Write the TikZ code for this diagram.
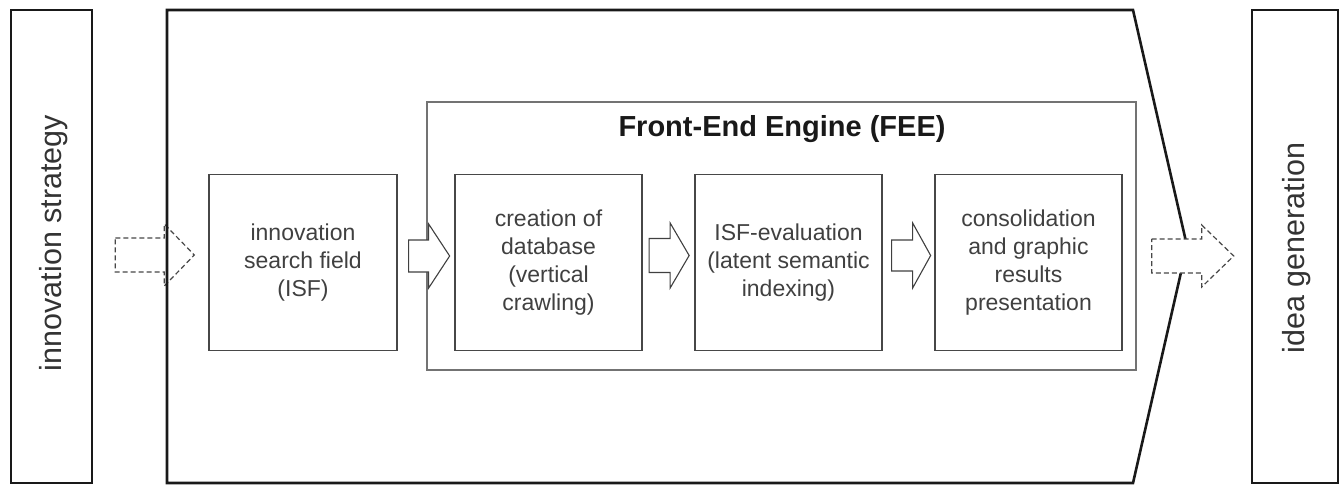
\documentclass[tikz,border=0pt]{standalone}
\usepackage{fontspec}
\setmainfont{Liberation Sans}
\usetikzlibrary{calc}
\begin{document}
\begin{tikzpicture}[x=1pt,y=-1pt,
  outer/.style={draw=black!90, line width=2.6pt, line join=miter},
  sidebox/.style={outer, minimum width=81pt, minimum height=473pt, inner sep=0pt},
  sidetext/.style={rotate=90, text=black!80, font=\fontsize{30.5}{35}\selectfont, inner sep=0pt},
  feebox/.style={draw=black!55, line width=1.8pt, minimum width=709pt, minimum height=268pt, inner sep=0pt},
  title/.style={text=black!90, font=\fontsize{29}{33}\bfseries\selectfont, inner sep=0pt},
  procbox/.style={draw=black!72, line width=1.3pt, minimum width=187pt, minimum height=176pt,
    inner sep=0pt, align=center, text=black!75, font=\fontsize{23}{28}\selectfont},
  blockarr/.style={draw=black!75, line width=1.1pt, fill=white, line join=miter},
  dasharr/.style={draw=black!72, line width=1.2pt, dash pattern=on 5pt off 3pt, fill=white, line join=miter}
]
\useasboundingbox (0,0) rectangle (1340,485);

% side boxes
\node[sidebox] (strat) at (51.5,246.5) {};
\node[sidetext] (stratlabel) at (54,243) {innovation strategy};
\node[sidebox, minimum width=86pt] (idea) at (1295,246.5) {};
\node[sidetext] (idealabel) at (1297,248) {idea generation};

% incoming dashed arrow (under the main outline)
\coordinate (din) at ($(strat.east)+(22,8.5)$);
\draw[dasharr, shift={(din)}] (0,-17) -- (49,-17) -- (49,-31) -- (79,0) -- (49,31) -- (49,17) -- (0,17) -- cycle;

% main chevron outline
\draw[outer] (167,10) coordinate (m1) -- (1133,10) coordinate (m2) -- (1187,246) coordinate (m3)
  -- (1133,483) coordinate (m4) -- (167,483) coordinate (m5) -- cycle;

% outgoing dashed arrow (over the main outline)
\coordinate (dout) at ($(idea.west)+(-99,9.5)$);
\draw[dasharr, shift={(dout)}] (0,-17) -- (50,-17) -- (50,-31) -- (82,0) -- (50,31) -- (50,17) -- (0,17) -- cycle;

% Front-End Engine frame
\node[feebox] (fee) at (781.5,236) {};
\node[title, anchor=base] (feetitle) at (782,136) {Front-End Engine (FEE)};

% process boxes
\node[procbox, minimum width=188pt] (b1) at (303,262.5) {innovation\\search field\\(ISF)};
\node[procbox] (b2) at (548.5,262.5) {creation of\\database\\(vertical\\crawling)};
\node[procbox] (b3) at (788.5,262.5) {ISF-evaluation\\(latent semantic\\indexing)};
\node[procbox] (b4) at (1028.5,262.5) {consolidation\\and graphic\\results\\presentation};

% block arrows between boxes
\coordinate (a1) at ($(b1.east)+(11,-6.5)$);
\coordinate (a2) at ($(b2.east)+(6.5,-7)$);
\coordinate (a3) at ($(b3.east)+(9,-7)$);
\draw[blockarr, shift={(a1)}] (0,-16) -- (20,-16) -- (20,-32) -- (41,0) -- (20,32) -- (20,16) -- (0,16) -- cycle;
\draw[blockarr, shift={(a2)}] (0,-17) -- (21,-17) -- (21,-32.5) -- (40,0) -- (21,32.5) -- (21,17) -- (0,17) -- cycle;
\draw[blockarr, shift={(a3)}] (0,-15.5) -- (21,-15.5) -- (21,-32.5) -- (39,0) -- (21,32.5) -- (21,15.5) -- (0,15.5) -- cycle;
\end{tikzpicture}
\end{document}
